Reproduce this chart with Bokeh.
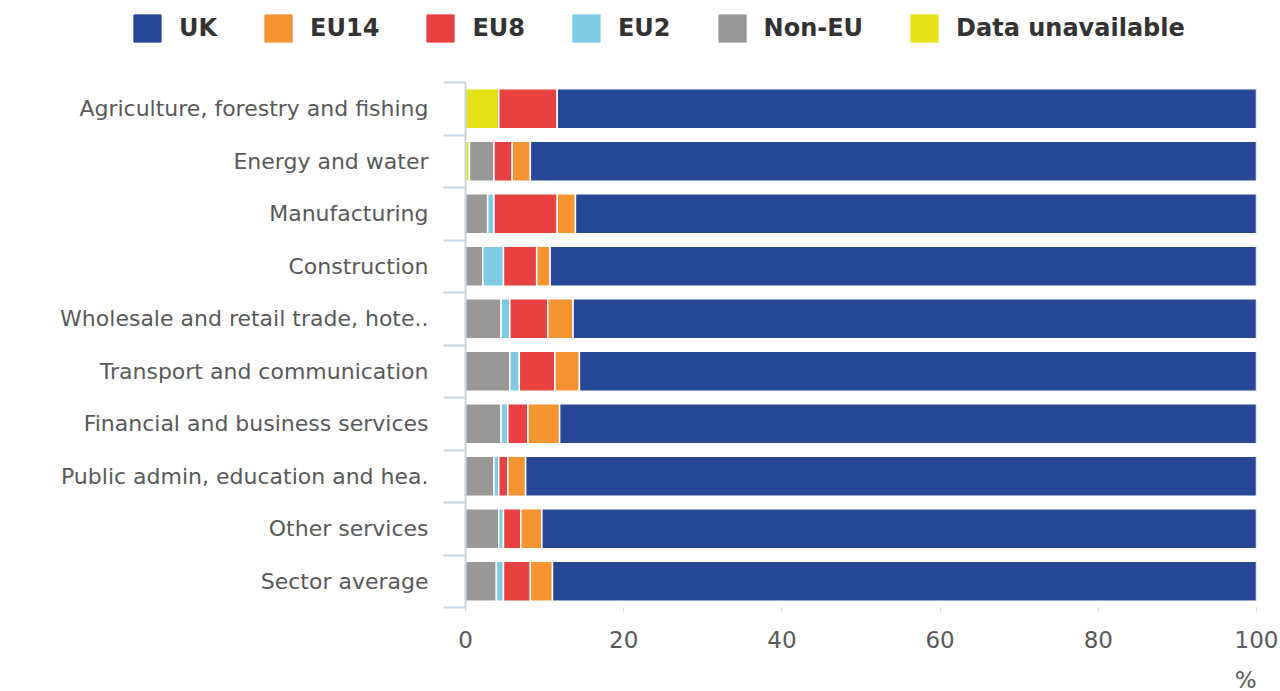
from bokeh.plotting import figure
from bokeh.models import ColumnDataSource, FixedTicker, Legend, LegendItem, Title, Range1d
from bokeh.embed import file_html
from bokeh.resources import INLINE

sectors = ["Agriculture, forestry and fishing", "Energy and water", "Manufacturing",
           "Construction", "Wholesale and retail trade, hote..", "Transport and communication",
           "Financial and business services", "Public admin, education and hea.",
           "Other services", "Sector average"]
data_unavailable = [4.2, 0.5, 0, 0, 0, 0, 0, 0, 0, 0]
non_eu = [0, 3.1, 2.8, 2.2, 4.5, 5.6, 4.5, 3.6, 4.2, 3.9]
eu2 = [0, 0, 0.8, 2.6, 1.1, 1.2, 0.85, 0.6, 0.6, 0.9]
eu8 = [7.4, 2.3, 8.0, 4.2, 4.8, 4.5, 2.55, 1.15, 2.2, 3.4]
eu14 = [0, 2.3, 2.3, 1.7, 3.2, 3.1, 4.0, 2.25, 2.65, 2.8]
uk = [88.4, 91.8, 86.1, 89.3, 86.4, 85.6, 88.1, 92.4, 90.35, 89.0]
x_ticks = [0, 20, 40, 60, 80, 100]

series = ["Data unavailable", "Non-EU", "EU2", "EU8", "EU14", "UK"]
colors = ["#E6E019", "#999896", "#7ECAE2", "#E84142", "#F59331", "#264796"]
legend_order = ["UK", "EU14", "EU8", "EU2", "Non-EU", "Data unavailable"]
color_of = dict(zip(series, colors))

n = len(sectors)
ypos = [n - 1 - i for i in range(n)]
source = ColumnDataSource(dict(y=ypos, **{
    "Data unavailable": data_unavailable, "Non-EU": non_eu, "EU2": eu2,
    "EU8": eu8, "EU14": eu14, "UK": uk}))

# ---- main chart ----
p = figure(frame_width=791, frame_height=525, output_backend="svg", toolbar_location=None,
           x_range=Range1d(0, 100), y_range=Range1d(-0.5, n - 0.5),
           min_border_left=465, min_border_right=24, min_border_top=22, min_border_bottom=83)
p.outline_line_color = None
p.xgrid.grid_line_color = None
p.ygrid.grid_line_color = None

p.hbar_stack(series, y="y", height=0.76, color=colors, line_color="white",
             line_width=1.5, source=source)

label_color = "#595959"
yax = p.yaxis[0]
yax.ticker = FixedTicker(ticks=ypos, minor_ticks=[i - 0.5 for i in range(n + 1)])
yax.major_label_overrides = {y: s for y, s in zip(ypos, sectors)}
yax.major_tick_line_color = None
yax.major_tick_out = 0
yax.major_tick_in = 0
yax.minor_tick_line_color = "#c5d3e2"
yax.minor_tick_line_width = 2
yax.minor_tick_out = 22
yax.minor_tick_in = 0
yax.axis_line_color = "#c5d3e2"
yax.axis_line_width = 2
yax.major_label_standoff = 15
yax.major_label_text_font = "DejaVu Sans"
yax.major_label_text_font_size = "22px"
yax.major_label_text_color = label_color

xax = p.xaxis[0]
xax.ticker = FixedTicker(ticks=x_ticks)
xax.axis_line_color = None
xax.major_tick_line_color = "#d5d5d5"
xax.major_tick_out = 4
xax.major_tick_in = 0
xax.minor_tick_line_color = None
xax.major_label_standoff = 19
xax.major_label_text_font = "DejaVu Sans"
xax.major_label_text_font_size = "23px"
xax.major_label_text_color = label_color

p.add_layout(Title(text="%", align="right", text_font="DejaVu Sans", text_font_size="23px",
                   text_font_style="normal", text_color=label_color, standoff=28), "below")

# ---- legend strip (separate root so its frame spans the full width) ----
lf = figure(width=1280, height=60, output_backend="svg", toolbar_location=None,
            x_range=Range1d(0, 1), y_range=Range1d(0, 1),
            x_axis_location=None, y_axis_location=None,
            min_border=0, min_border_left=0, min_border_right=0,
            min_border_top=0, min_border_bottom=0)
lf.grid.visible = False
lf.outline_line_color = None
items = []
for s in legend_order:
    # off-range swatch renderer, used only to give the legend its colour
    r = lf.hbar(y=[-50], left=[-60], right=[-50], height=0.5, color=color_of[s])
    items.append(LegendItem(label=s, renderers=[r]))
legend = Legend(items=items, orientation="horizontal", location=(130, 15),
                glyph_width=34, glyph_height=34, label_standoff=15, spacing=44,
                label_text_font="DejaVu Sans", label_text_font_size="24px",
                label_text_font_style="bold", label_text_color="#333333",
                border_line_color=None, background_fill_alpha=0, padding=0, margin=0)
lf.add_layout(legend, "center")

open("out.html", "w").write(file_html([lf, p], INLINE))
